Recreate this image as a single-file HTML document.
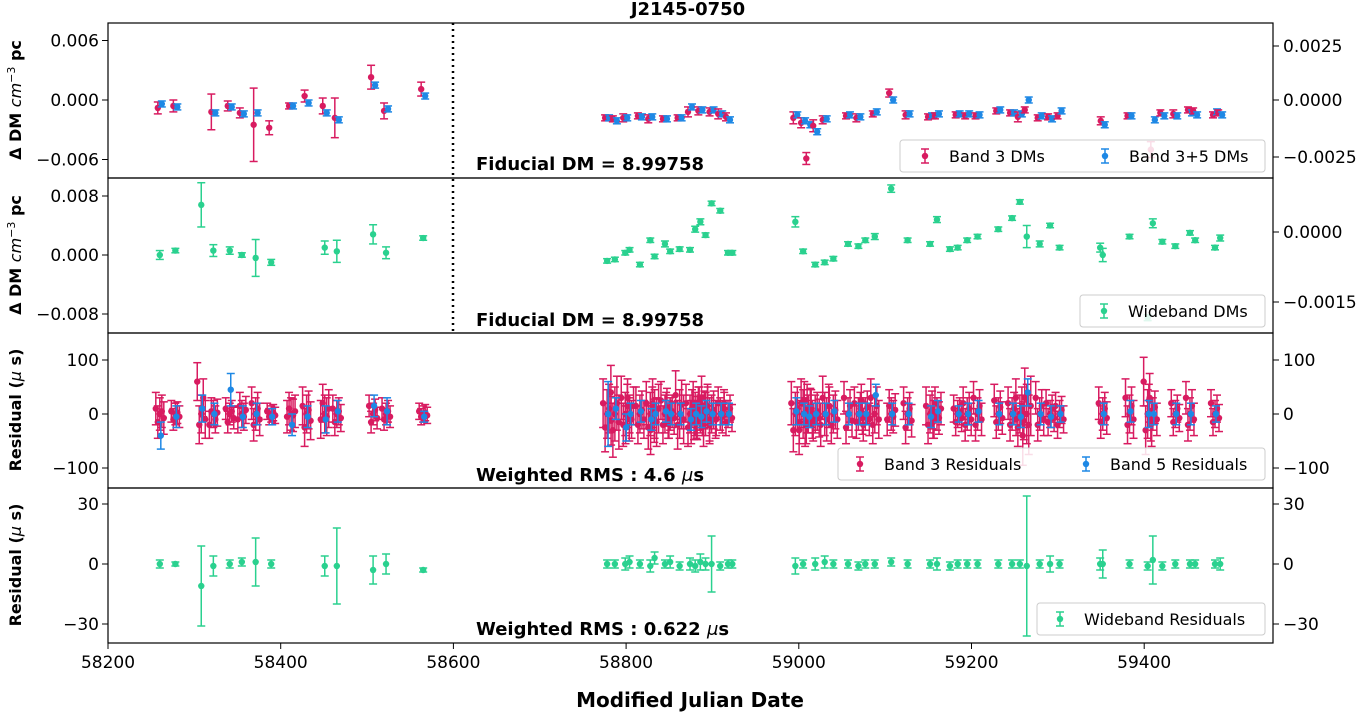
<!DOCTYPE html>
<html><head><meta charset="utf-8"><style>
body{margin:0;background:#fff;}
svg{font-family:"DejaVu Sans","Liberation Sans",sans-serif;}
</style></head><body>
<svg id="c" width="1367" height="712"></svg>
<script>
const xTicks=[58200,58400,58600,58800,59000,59200,59400];
// Panel 1: DM variations
const p1Mjd=[58260,58278,58322,58341,58355,58371,58389,58412,58430,58451,58465,58507,58522,58565,
58778,58787,58799,58816,58828,58845,58862,58874,58886,58899,58909,58918,
58996,59005,59011,59019,59030,59057,59069,59088,59107,59126,59152,59160,59184,59195,59207,59231,59247,59256,59264,59279,59291,59302,59352,59383,59410,59421,59436,59453,59459,59482,59488];
const p1Red=[-0.0008,-0.0006,-0.0012,-0.0006,-0.0013,-0.0025,-0.0028,-0.0006,0.0004,-0.0006,-0.0018,0.0023,-0.0011,0.0011,
-0.0018,-0.0019,-0.0018,-0.0016,-0.0019,-0.0019,-0.0018,-0.0012,-0.0011,-0.0012,-0.0014,-0.0017,
-0.0018,-0.0023,-0.0059,-0.0026,-0.0020,-0.0016,-0.0018,-0.0014,0.0007,-0.0015,-0.0017,-0.0016,-0.0015,-0.0016,-0.0016,-0.0011,-0.0013,-0.0017,-0.0010,-0.0018,-0.0017,-0.0016,-0.0021,-0.0016,-0.0050,-0.0013,-0.0014,-0.0010,-0.0011,-0.0015,-0.0013];
const p1RedErr=[0.0006,0.0006,0.0018,0.0005,0.0005,0.0037,0.0007,0.0003,0.0006,0.0008,0.0020,0.0012,0.0008,0.0007,
0.0003,0.0003,0.0004,0.0003,0.0004,0.0003,0.0003,0.0005,0.0004,0.0004,0.0005,0.0004,
0.0006,0.0005,0.0006,0.0006,0.0004,0.0003,0.0004,0.0003,0.0004,0.0004,0.0003,0.0003,0.0003,0.0003,0.0003,0.0003,0.0003,0.0005,0.0003,0.0003,0.0003,0.0003,0.0004,0.0003,0.0008,0.0003,0.0004,0.0003,0.0003,0.0003,0.0003];
const p1Blue=[-0.0004,-0.0007,-0.0013,-0.0007,-0.0014,-0.0013,null,-0.0006,-0.0003,-0.0013,-0.0020,0.0015,-0.0009,0.0004,
-0.0018,-0.0021,-0.0018,-0.0017,-0.0017,-0.0019,-0.0018,-0.0007,-0.0010,-0.0010,-0.0014,-0.0020,
-0.0015,-0.0021,-0.0025,-0.0032,-0.0019,-0.0015,-0.0017,-0.0012,0.0000,-0.0014,-0.0016,-0.0014,-0.0014,-0.0014,-0.0015,-0.0010,-0.0013,-0.0014,0.0000,-0.0016,-0.0019,-0.0011,-0.0025,-0.0016,-0.0020,-0.0016,-0.0016,-0.0013,-0.0015,-0.0012,-0.0015];
// Panel 2: wideband DMs
const p2Mjd=[58260,58278,58308,58322,58341,58355,58371,58389,58451,58465,58507,58522,58565,
58778,58787,58799,58804,58816,58828,58833,58845,58851,58862,58874,58880,58886,58892,58899,58909,58918,58923,
58996,59005,59019,59030,59040,59057,59069,59077,59088,59107,59126,59152,59160,59175,59184,59195,59207,59231,59247,59256,59264,59279,59291,59302,59349,59352,59383,59404,59410,59421,59436,59453,59459,59482,59488];
const p2Val=[0.0000,0.0006,0.0068,0.0006,0.0006,0.0000,-0.0004,-0.0010,0.0010,0.0005,0.0028,0.0003,0.0023,
-0.0008,-0.0006,0.0003,0.0007,-0.0013,0.0020,-0.0002,0.0015,0.0005,0.0008,0.0007,0.0035,0.0045,0.0027,0.0070,0.0060,0.0003,0.0003,
0.0045,0.0005,-0.0013,-0.0010,-0.0005,0.0015,0.0012,0.0020,0.0025,0.0090,0.0020,0.0015,0.0048,0.0008,0.0010,0.0020,0.0025,0.0035,0.0050,0.0072,0.0025,0.0015,0.0040,0.0010,0.0010,0.0000,0.0025,-0.0085,0.0043,0.0018,0.0012,0.0030,0.0020,0.0010,0.0023];
const p2Err=[0.0006,0.0003,0.0030,0.0008,0.0005,0.0003,0.0025,0.0004,0.0009,0.0015,0.0013,0.0008,0.0003,
0.0003,0.0003,0.0003,0.0003,0.0003,0.0003,0.0003,0.0004,0.0003,0.0003,0.0003,0.0004,0.0004,0.0003,0.0003,0.0003,0.0003,0.0003,
0.0007,0.0003,0.0003,0.0003,0.0003,0.0003,0.0003,0.0003,0.0004,0.0005,0.0003,0.0003,0.0004,0.0003,0.0003,0.0003,0.0003,0.0003,0.0003,0.0003,0.0015,0.0004,0.0003,0.0003,0.0006,0.0009,0.0003,0.0004,0.0006,0.0003,0.0003,0.0003,0.0003,0.0003,0.0004];
// Panel 3: narrowband residuals (band 3 red, band 5 blue)
const p3Mjd=[58260,58278,58308,58322,58341,58355,58371,58389,58412,58430,58451,58465,58507,58522,58565,
58778,58787,58799,58804,58816,58828,58833,58845,58851,58862,58874,58880,58886,58892,58899,58909,58918,
58996,59005,59011,59019,59030,59040,59057,59069,59077,59088,59107,59126,59152,59160,59184,59195,59207,59231,59247,59256,59264,59279,59291,59302,59352,59383,59404,59410,59436,59453,59482];
const p3RedA=[10,5,60,-20,10,-10,20,5,-5,15,-10,10,15,10,5,20,40,30,-20,15,20,-30,25,10,35,20,-15,-10,30,15,-10,20,20,-30,25,10,-20,15,30,20,25,30,-10,20,15,-15,10,20,30,25,20,30,-40,30,20,15,20,30,60,25,20,30,20];
const p3RedB=[-15,-10,-20,5,-15,15,-20,-5,10,-25,20,-15,-15,-10,-5,-25,-30,-20,30,-20,-25,20,-20,-15,-20,-25,20,15,-20,-20,20,-15,-30,20,-20,-15,30,-20,-25,-15,-20,-20,15,-25,-20,20,-15,-20,-20,-15,-20,-25,30,-20,-15,-20,-15,-20,-30,-20,-15,-20,-15];
const p3RedErr=[30,20,35,25,20,25,30,15,30,35,35,25,20,20,15,45,50,40,35,35,40,45,35,30,45,35,40,35,40,35,30,25,40,45,35,35,40,35,30,30,30,35,30,30,35,30,25,30,30,30,30,35,55,30,25,25,30,35,45,30,25,30,25];
const p3Blue=[-40,-5,10,0,45,-5,0,-5,-20,-5,-10,5,15,5,-5,0,10,-25,0,5,-10,0,5,0,0,-10,0,-5,5,0,0,0,5,0,-5,0,0,5,0,0,0,35,0,0,-5,5,0,0,5,0,0,-5,40,0,-5,0,0,5,0,0,0,0,0];
const p3BlueErr=[25,20,25,20,30,20,20,15,20,20,25,20,20,25,10,60,20,25,20,20,20,20,20,20,20,20,20,20,20,20,20,20,25,20,20,20,20,20,20,20,20,20,20,20,20,20,15,20,20,20,20,20,25,20,20,15,20,20,25,20,20,20,15];
// Panel 4: wideband residuals
const p4Mjd=p2Mjd;
const p4Val=[0,0,-11,-1,0,1,1,0,-1,-1,-3,0,-3,
0,0,0,1,0,-1,3,0,1,-1,0,-1,1,0,0,-1,0,0,
-1,0,0,1,0,0,-1,0,0,1,0,0,0,-1,0,0,0,0,0,0,-1,0,0,0,0,0,0,-1,2,-1,0,0,0,0,0];
const p4Err=[2,1,20,5,2,2,12,2,5,19,7,5,1,
2,2,3,3,2,3,3,2,3,2,3,3,4,3,14,2,2,2,
4,2,3,3,2,2,2,2,2,2,2,2,3,2,2,2,2,2,2,2,35,2,4,2,3,7,2,2,12,2,2,2,2,2,3];

const svg=document.getElementById('c');
const NS='http://www.w3.org/2000/svg';
function el(t,a,p){const e=document.createElementNS(NS,t);for(const k in a)e.setAttribute(k,a[k]);(p||svg).appendChild(e);return e;}
const X0=108,X1=1273;
const xs=m=>X0+(m-58200)*0.8635;
const panels=[{t:23,b:178},{t:178,b:333},{t:333,b:488},{t:488,b:643}];
const y1=v=>100-v*9917, y2=v=>255-v*7375, y3=v=>414-v*0.54, y4=v=>564-v*2.0;
const RED='#d81b60',BLUE='#1e88e5',GREEN='#2ad18f';
function eb(g,x,y,ylo,yhi,c){
 el('line',{x1:x,x2:x,y1:ylo,y2:yhi,stroke:c,'stroke-width':1.5},g);
 el('line',{x1:x-4,x2:x+4,y1:ylo,y2:ylo,stroke:c,'stroke-width':1.5},g);
 el('line',{x1:x-4,x2:x+4,y1:yhi,y2:yhi,stroke:c,'stroke-width':1.5},g);
 el('circle',{cx:x,cy:y,r:3.2,fill:c},g);
}
panels.forEach((p,i)=>{const r=el('rect',{x:X0,y:p.t,width:X1-X0,height:p.b-p.t,fill:'none',stroke:'#000','stroke-width':1.2});
});
const dl=el('line',{x1:453,x2:453,y1:23,y2:333,stroke:'#000','stroke-width':2.5,'stroke-dasharray':'2,4'});

xTicks.forEach(t=>{const x=xs(t);el('line',{x1:x,x2:x,y1:643,y2:649,stroke:'#000'});
const tx=el('text',{x:x,y:668,'text-anchor':'middle','font-size':17});tx.textContent=t;
});
function yt(y,txt,side){const x=side?X1:X0;el('line',{x1:x,x2:side?x+6:x-6,y1:y,y2:y,stroke:'#000'});
const tx=el('text',{x:side?x+10:x-9,y:y+6,'text-anchor':side?'start':'end','font-size':17});tx.textContent=txt;
}
yt(y1(0.006),'0.006');yt(y1(0),'0.000');yt(y1(-0.006),'\u22120.006');
yt(46,'0.0025',1);yt(100,'0.0000',1);yt(157,'\u22120.0025',1);
yt(y2(0.008),'0.008');yt(y2(0),'0.000');yt(y2(-0.008),'\u22120.008');
yt(232,'0.0000',1);yt(302,'\u22120.0015',1);
[100,0,-100].forEach(v=>{const s=v<0?'\u2212100':''+v;yt(y3(v),s);yt(y3(v),s,1);});
[30,0,-30].forEach(v=>{const s=v<0?'\u221230':''+v;yt(y4(v),s);yt(y4(v),s,1);});
const g1=el('g',{});
p1Mjd.forEach((m,i)=>{const x=xs(m),v=p1Red[i],e=p1RedErr[i];eb(g1,x-2,y1(v),y1(v-e),y1(v+e),RED);
const b=p1Blue[i];if(b!==null)eb(g1,x+2,y1(b),y1(b-0.0003),y1(b+0.0003),BLUE);});
const g2=el('g',{});
p2Mjd.forEach((m,i)=>{const v=p2Val[i],e=p2Err[i];eb(g2,xs(m),y2(v),y2(v-e),y2(v+e),GREEN);});
const g3=el('g',{});
p3Mjd.forEach((m,i)=>{const x=xs(m);[p3RedA[i],p3RedB[i],0,p3RedA[i]/2,p3RedB[i]/2].forEach((v,j)=>{const e=p3RedErr[i];const xx=x-4+j*2;eb(g3,xx,y3(v),y3(v-e),y3(v+e),RED);});});
p3Mjd.forEach((m,i)=>{const v=p3Blue[i],e=p3BlueErr[i];eb(g3,xs(m)+1,y3(v),y3(v-e),y3(v+e),BLUE);});
const g4=el('g',{});
p4Mjd.forEach((m,i)=>{const v=p4Val[i],e=p4Err[i];eb(g4,xs(m),y4(v),y4(v-e),y4(v+e),GREEN);});
function T(x,y,s,txt,name,attrs){const t=el('text',Object.assign({x:x,y:y,'font-size':s},attrs||{}));t.textContent=txt;return t;}
T(688,15,18,'J2145-0750','chart-title',{'text-anchor':'middle','font-weight':'bold'});
T(690,707,20,'Modified Julian Date','x-axis-title',{'text-anchor':'middle','font-weight':'bold'});
T(476,170,18,'Fiducial DM = 8.99758','fiducial-dm-label-1',{'font-weight':'bold'});
T(476,326,18,'Fiducial DM = 8.99758','fiducial-dm-label-2',{'font-weight':'bold'});
const r1=T(476,481,18,'Weighted RMS : 4.6 ','weighted-rms-label-1',{'font-weight':'bold'});
el('tspan',{'font-style':'italic','font-weight':'normal'},r1).textContent='\u03bc';el('tspan',{'font-weight':'bold'},r1).textContent='s';
const r2=T(476,635,18,'Weighted RMS : 0.622 ','weighted-rms-label-2',{'font-weight':'bold'});
el('tspan',{'font-style':'italic','font-weight':'normal'},r2).textContent='\u03bc';el('tspan',{'font-weight':'bold'},r2).textContent='s';
function ylab(cy,txt,name){const t=T(0,0,16,'',name,{'text-anchor':'middle','font-weight':'bold',transform:`translate(21,${cy}) rotate(-90)`});t.innerHTML=txt;}
ylab(100,'\u0394 DM  <tspan font-style="italic" font-weight="normal">cm</tspan><tspan font-size="11" dy="-6" font-weight="normal">\u22123</tspan><tspan dy="6"> pc</tspan>','y-axis-title-dm');
ylab(255,'\u0394 DM  <tspan font-style="italic" font-weight="normal">cm</tspan><tspan font-size="11" dy="-6" font-weight="normal">\u22123</tspan><tspan dy="6"> pc</tspan>','y-axis-title-wideband-dm');
ylab(410,'Residual (<tspan font-style="italic" font-weight="normal">\u03bc</tspan> s)','y-axis-title-residual');
ylab(565,'Residual (<tspan font-style="italic" font-weight="normal">\u03bc</tspan> s)','y-axis-title-wideband-residual');
function legend(x,y,w,items,name){const g=el('g',{});
el('rect',{x:x,y:y,width:w,height:32,rx:3,fill:'#fff','fill-opacity':0.85,stroke:'#ccc'},g);
items.forEach(it=>{eb(g,it.x,y+16,y+9,y+23,it.c);const t=el('text',{x:it.x+24,y:y+22,'font-size':16},g);t.textContent=it.t;});}
legend(900,140,365,[{x:925,c:RED,t:'Band 3 DMs'},{x:1105,c:BLUE,t:'Band 3+5 DMs'}],'legend-dm');
legend(1080,295,185,[{x:1104,c:GREEN,t:'Wideband DMs'}],'legend-wideband-dm');
legend(838,448,427,[{x:860,c:RED,t:'Band 3 Residuals'},{x:1086,c:BLUE,t:'Band 5 Residuals'}],'legend-residuals');
legend(1037,603,228,[{x:1060,c:GREEN,t:'Wideband Residuals'}],'legend-wideband-residuals');
</script>
</body></html>
